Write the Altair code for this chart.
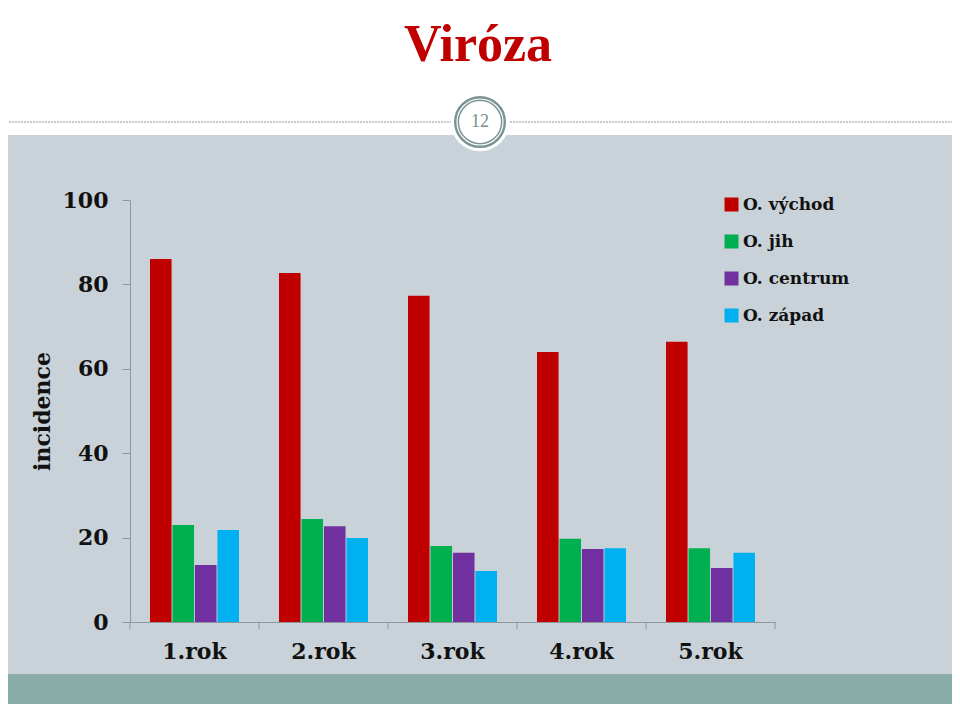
import altair as alt
import pandas as pd

years = ["1.rok", "2.rok", "3.rok", "4.rok", "5.rok"]
series = ["O. východ", "O. jih", "O. centrum", "O. západ"]
vychod = [86.0, 82.7, 77.3, 64.0, 66.4]
jih = [23.0, 24.4, 18.0, 19.7, 17.5]
centrum = [13.5, 22.7, 16.4, 17.3, 12.8]
zapad = [21.8, 19.9, 12.1, 17.5, 16.4]
colors = ["#C00000", "#00B050", "#7030A0", "#00B0F0"]
y_ticks = [0, 20, 40, 60, 80, 100]
category_bounds = [0, 1, 2, 3, 4, 5]

rows = []
for s, vals in zip(series, [vychod, jih, centrum, zapad]):
    for y, v in zip(years, vals):
        rows.append({"rok": y, "oblast": s, "incidence": v})
df = pd.DataFrame(rows)

LABEL_FONT = "DejaVu Serif"
AXIS_GRAY = "#8C989E"
one = pd.DataFrame({"a": [0]})

def deco():
    return alt.Chart(one)

gray_bg = deco().mark_rect(color="#C8D2D8").encode(
    x=alt.value(-130), x2=alt.value(826), y=alt.value(-65), y2=alt.value(474))
teal = deco().mark_rect(color="#8AADAA").encode(
    x=alt.value(-130), x2=alt.value(826), y=alt.value(474), y2=alt.value(507))
border = deco().mark_rule(color="#9AA8A8", strokeWidth=1.5).encode(
    x=alt.value(826), y=alt.value(-200), y2=alt.value(507))
dash = deco().mark_rule(color="#8A9696", strokeWidth=1, strokeDash=[2, 1]).encode(
    x=alt.value(-130), x2=alt.value(826), y=alt.value(-78))
disc = deco().mark_point(filled=True, color="white", opacity=1, size=3420, shape="circle").encode(
    x=alt.value(350), y=alt.value(-78))
ring1 = deco().mark_point(filled=False, color="#7A9494", strokeWidth=2.4, size=2460, shape="circle", opacity=1).encode(
    x=alt.value(350), y=alt.value(-78))
ring2 = deco().mark_point(filled=False, color="#7A9494", strokeWidth=1.5, size=1880, shape="circle", opacity=1).encode(
    x=alt.value(350), y=alt.value(-78))
num = deco().mark_text(text="12", font="Liberation Serif", fontSize=18, color="#7A8F8F",
                       align="center", baseline="middle").encode(x=alt.value(350), y=alt.value(-78))
title = deco().mark_text(text="Viróza", font="Liberation Serif", fontWeight="bold", fontSize=52,
                         color="#C00000", align="center", baseline="alphabetic").encode(
    x=alt.value(348), y=alt.value(-139))

# category boundary ticks below the x axis (Excel style)
ticks = alt.Chart(pd.DataFrame({"b": category_bounds})).mark_rule(color=AXIS_GRAY, strokeWidth=1).encode(
    x=alt.X("b:Q", scale=alt.Scale(domain=[0, 5], nice=False, zero=False), axis=None),
    y=alt.value(422), y2=alt.value(429))

bars = alt.Chart(df).mark_bar().encode(
    x=alt.X("rok:N", sort=years, title=None,
            scale=alt.Scale(paddingInner=0.31, paddingOuter=0.155),
            axis=alt.Axis(labelAngle=0, labelFont=LABEL_FONT, labelFontWeight="bold",
                          labelFontSize=22, labelColor="#111111", labelPadding=19,
                          domainColor=AXIS_GRAY, ticks=False,
                          grid=False, zindex=1)),
    xOffset=alt.XOffset("oblast:N", sort=series, scale=alt.Scale(paddingInner=0.04)),
    y=alt.Y("incidence:Q", title="incidence",
            scale=alt.Scale(domain=[0, 100], nice=False),
            axis=alt.Axis(values=y_ticks, grid=False, labelFont=LABEL_FONT,
                          labelFontWeight="bold", labelFontSize=22, labelColor="#111111",
                          labelPadding=14, domainColor=AXIS_GRAY, tickColor=AXIS_GRAY,
                          tickSize=8, titleFont=LABEL_FONT, titleFontWeight="bold",
                          titleFontSize=22, titleColor="#111111", titlePadding=8, zindex=1)),
    color=alt.Color("oblast:N", sort=series,
                    scale=alt.Scale(domain=series, range=colors),
                    legend=alt.Legend(orient="none", legendX=593, legendY=-4, title=None,
                                      symbolType="square", symbolSize=196,
                                      symbolStrokeWidth=0, labelFont=LABEL_FONT,
                                      labelFontWeight="bold", labelFontSize=17,
                                      labelColor="#111111", labelOffset=3,
                                      rowPadding=19, labelLimit=300, padding=0)),
)

chart = alt.layer(gray_bg, teal, border, dash, disc, ring1, ring2, num, title, bars, ticks).resolve_scale(
    x="independent"
).properties(
    width=645, height=422,
    autosize=alt.AutoSizeParams(type="none"),
    padding={"left": 122, "top": 192, "right": 177, "bottom": 82},
).configure(background="white").configure_view(stroke=None)

chart.save("out.html", embed_options={"renderer": "svg", "actions": False})
